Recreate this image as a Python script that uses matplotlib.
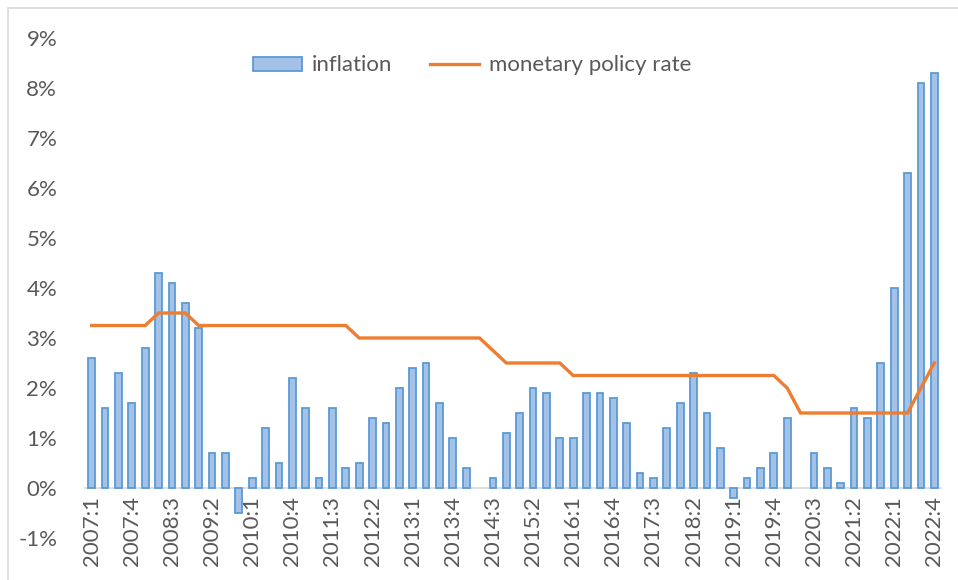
import numpy as np
import matplotlib
matplotlib.use("Agg")
import matplotlib.pyplot as plt
from matplotlib.patches import Rectangle

plt.rcParams['font.family'] = ['Lato', 'DejaVu Sans']

quarters = [f"{y}:{q}" for y in range(2007, 2023) for q in range(1, 5)]

inflation = [2.6, 1.6, 2.3, 1.7, 2.8, 4.3, 4.1, 3.7, 3.2, 0.7, 0.7, -0.5,
             0.2, 1.2, 0.5, 2.2, 1.6, 0.2, 1.6, 0.4, 0.5, 1.4, 1.3, 2.0,
             2.4, 2.5, 1.7, 1.0, 0.4, np.nan, 0.2, 1.1, 1.5, 2.0, 1.9, 1.0,
             1.0, 1.9, 1.9, 1.8, 1.3, 0.3, 0.2, 1.2, 1.7, 2.3, 1.5, 0.8,
             -0.2, 0.2, 0.4, 0.7, 1.4, np.nan, 0.7, 0.4, 0.1, 1.6, 1.4, 2.5,
             4.0, 6.3, 8.1, 8.3]

policy_rate = [3.25, 3.25, 3.25, 3.25, 3.25, 3.5, 3.5, 3.5, 3.25, 3.25, 3.25, 3.25,
               3.25, 3.25, 3.25, 3.25, 3.25, 3.25, 3.25, 3.25, 3.0, 3.0, 3.0, 3.0,
               3.0, 3.0, 3.0, 3.0, 3.0, 3.0, 2.75, 2.5, 2.5, 2.5, 2.5, 2.5,
               2.25, 2.25, 2.25, 2.25, 2.25, 2.25, 2.25, 2.25, 2.25, 2.25, 2.25, 2.25,
               2.25, 2.25, 2.25, 2.25, 2.0, 1.5, 1.5, 1.5, 1.5, 1.5, 1.5, 1.5,
               1.5, 1.5, 2.0, 2.5]

y_ticks = list(range(-1, 10))
label_step = 3

text_color = '#595959'
fig = plt.figure(figsize=(9.58, 5.8), dpi=100)
ax = fig.add_axes([85/958, 1-538/580, (941-85)/958, (538-38)/580])

for s in ['top', 'right', 'left']:
    ax.spines[s].set_visible(False)
ax.spines['bottom'].set_position(('data', 0))
ax.spines['bottom'].set_color('#D9D9D9')
ax.spines['bottom'].set_linewidth(1.2)
ax.spines['bottom'].set_zorder(1)

x = np.arange(len(quarters))
bars = ax.bar(x, inflation, width=0.5, color='#A4C2E8', edgecolor='#5B9BD5',
              linewidth=1.3, label='inflation', zorder=2)
line, = ax.plot(x, policy_rate, color='#ED7D31', linewidth=2.4, label='monetary policy rate',
                zorder=3, solid_joinstyle='miter')

ax.set_xlim(-0.5, len(quarters) - 0.5)
ax.set_ylim(-1, 9)
ax.set_yticks(y_ticks)
ax.set_yticklabels([f"{v}%" for v in y_ticks], fontsize=16, color=text_color)
ax.tick_params(axis='y', length=0, pad=20)

ax.set_xticks(x[::label_step])
ax.set_xticklabels(quarters[::label_step], rotation=90, fontsize=16, color=text_color)
ax.tick_params(axis='x', length=0, pad=6)

leg = ax.legend(handles=[bars, line], loc='upper center', bbox_to_anchor=(0.452, 1.005),
                ncol=2, frameon=False, fontsize=16, handlelength=2.2, handleheight=0.6,
                columnspacing=1.7, handletextpad=0.45, labelcolor=text_color)

fig.patches.append(Rectangle((8/958, -0.05), 1.2, 1.05 - 8/580, transform=fig.transFigure,
                             fill=False, edgecolor='#D9D9D9', linewidth=1.2))

fig.savefig('out.png', dpi=100)
